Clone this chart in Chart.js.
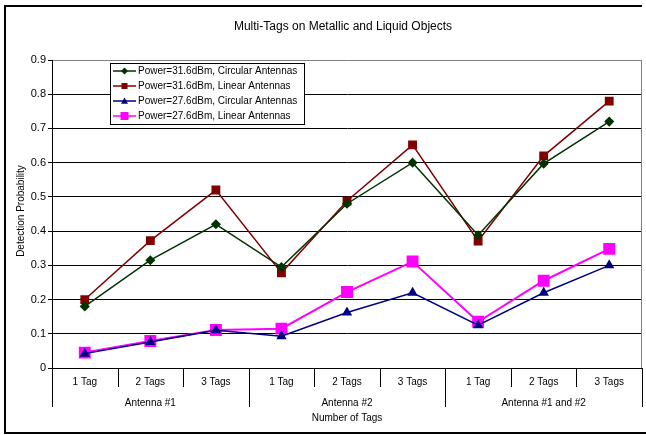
<!DOCTYPE html>
<html>
<head>
<meta charset="utf-8">
<script src="https://cdn.jsdelivr.net/npm/chart.js@4/dist/chart.umd.min.js"></script>
<style>
  body { margin: 0; background: #fff; }
  canvas { display: block; }
</style>
</head>
<body>
<canvas id="chart" width="646" height="435"></canvas>
<script>
// Chart data
const categories = ['1 Tag', '2 Tags', '3 Tags', '1 Tag', '2 Tags', '3 Tags', '1 Tag', '2 Tags', '3 Tags'];
const groups = ['Antenna #1', 'Antenna #2', 'Antenna #1 and #2'];
const seriesNames = [
    'Power=31.6dBm, Circular Antennas',
    'Power=31.6dBm, Linear Antennas',
    'Power=27.6dBm, Circular Antennas',
    'Power=27.6dBm, Linear Antennas'
];
const circular316 = [0.18, 0.315, 0.42, 0.295, 0.48, 0.60, 0.388, 0.597, 0.72];
const linear316 = [0.20, 0.372, 0.52, 0.278, 0.488, 0.652, 0.371, 0.62, 0.78];
const circular276 = [0.042, 0.076, 0.11, 0.093, 0.162, 0.22, 0.125, 0.22, 0.30];
const linear276 = [0.045, 0.079, 0.111, 0.115, 0.222, 0.311, 0.135, 0.255, 0.348];
const yTicks = [0, 0.1, 0.2, 0.3, 0.4, 0.5, 0.6, 0.7, 0.8, 0.9];

const FONT = '"Liberation Sans", Arial, sans-serif';

// draw a small marker (used for the legend)
function drawMarker(ctx, style, x, y, size, color) {
    ctx.fillStyle = color;
    ctx.beginPath();
    if (style === 'rectRot') {
        ctx.moveTo(x, y - size);
        ctx.lineTo(x + size, y);
        ctx.lineTo(x, y + size);
        ctx.lineTo(x - size, y);
    } else if (style === 'triangle') {
        ctx.moveTo(x, y - size);
        ctx.lineTo(x + size, y + size * 0.75);
        ctx.lineTo(x - size, y + size * 0.75);
    } else {
        ctx.rect(x - size, y - size, size * 2, size * 2);
    }
    ctx.closePath();
    ctx.fill();
}

const decorPlugin = {
    id: 'decor',
    beforeDraw(chart) {
        const ctx = chart.ctx;
        ctx.save();
        ctx.fillStyle = '#fff';
        ctx.fillRect(0, 0, chart.width, chart.height);
        ctx.restore();
    },
    afterDraw(chart) {
        const ctx = chart.ctx;
        const area = chart.chartArea;
        const x = chart.scales.x;
        ctx.save();

        // outer frame
        ctx.strokeStyle = '#000';
        ctx.lineWidth = 2;
        ctx.beginPath();
        ctx.moveTo(642, 6);
        ctx.lineTo(5, 6);
        ctx.lineTo(5, 433);
        ctx.lineTo(646, 433);
        ctx.stroke();

        // title
        ctx.fillStyle = '#000';
        ctx.font = '12px ' + FONT;
        ctx.textAlign = 'center';
        ctx.textBaseline = 'middle';
        ctx.fillText('Multi-Tags on Metallic and Liquid Objects', 343, 27);

        // right border of plot area
        ctx.strokeStyle = '#808080';
        ctx.lineWidth = 1;
        ctx.beginPath();
        ctx.moveTo(Math.round(area.right) - 0.5, area.top);
        ctx.lineTo(Math.round(area.right) - 0.5, area.bottom);
        ctx.stroke();

        // category separators below the axis
        const slot = x.getPixelForValue(1) - x.getPixelForValue(0);
        const start = x.getPixelForValue(0) - slot / 2;
        ctx.strokeStyle = '#000';
        for (let i = 0; i <= categories.length; i++) {
            const bx = Math.round(start + i * slot) + 0.5;
            const len = i % 3 === 0 ? 39 : 19;
            ctx.beginPath();
            ctx.moveTo(bx, area.bottom);
            ctx.lineTo(bx, area.bottom + len);
            ctx.stroke();
        }

        // group labels
        ctx.font = '10px ' + FONT;
        groups.forEach((g, i) => {
            ctx.fillText(g, start + slot * (3 * i + 1.5), 403);
        });

        // axis titles
        ctx.fillText('Number of Tags', (area.left + area.right) / 2, 418);
        ctx.translate(21, (area.top + area.bottom) / 2 - 3);
        ctx.rotate(-Math.PI / 2);
        ctx.fillText('Detection Probability', 0, 0);
        ctx.restore();

        // legend box
        ctx.save();
        const lx = 110, ly = 63, lw = 194, lh = 61;
        ctx.fillStyle = '#fff';
        ctx.fillRect(lx, ly, lw, lh);
        ctx.strokeStyle = '#000';
        ctx.lineWidth = 1;
        ctx.strokeRect(lx + 0.5, ly + 0.5, lw, lh);
        const sizes = [3.5, 3, 3.5, 4];
        ctx.font = '10px ' + FONT;
        ctx.textBaseline = 'middle';
        chart.data.datasets.forEach((ds, i) => {
            const ry = 71 + i * 15;
            ctx.strokeStyle = ds.borderColor;
            ctx.lineWidth = 1.5;
            ctx.beginPath();
            ctx.moveTo(113, ry);
            ctx.lineTo(136, ry);
            ctx.stroke();
            drawMarker(ctx, ds.pointStyle, 124.5, ry, sizes[i], ds.pointBackgroundColor);
            ctx.fillStyle = '#000';
            ctx.textAlign = 'left';
            ctx.fillText(ds.label, 138, ry + 0.5);
        });
        ctx.restore();
    }
};

new Chart(document.getElementById('chart'), {
    type: 'line',
    data: {
        labels: categories,
        datasets: [
            {
                label: seriesNames[0],
                data: circular316,
                borderColor: '#003300',
                pointBackgroundColor: '#003300',
                pointBorderColor: '#003300',
                pointStyle: 'rectRot',
                pointRadius: 4,
                borderWidth: 1.5,
                tension: 0
            },
            {
                label: seriesNames[1],
                data: linear316,
                borderColor: '#800000',
                pointBackgroundColor: '#800000',
                pointBorderColor: '#800000',
                pointStyle: 'rect',
                pointRadius: 5.2,
                borderWidth: 1.5,
                tension: 0
            },
            {
                label: seriesNames[2],
                data: circular276,
                borderColor: '#000080',
                pointBackgroundColor: '#000080',
                pointBorderColor: '#000080',
                pointStyle: 'triangle',
                pointRadius: 4.5,
                borderWidth: 1.5,
                tension: 0
            },
            {
                label: seriesNames[3],
                data: linear276,
                borderColor: '#ff00ff',
                pointBackgroundColor: '#ff00ff',
                pointBorderColor: '#ff00ff',
                pointStyle: 'rect',
                pointRadius: 7,
                borderWidth: 2,
                tension: 0
            }
        ]
    },
    options: {
        responsive: false,
        animation: false,
        layout: { autoPadding: false, padding: { top: 60, right: 4, left: 0, bottom: 0 } },
        plugins: {
            legend: { display: false },
            title: { display: false },
            tooltip: { enabled: false }
        },
        scales: {
            x: {
                type: 'category',
                offset: true,
                grid: { display: false, drawTicks: false },
                border: { display: true, color: '#000', width: 1 },
                ticks: {
                    color: '#000',
                    font: { family: FONT, size: 10 },
                    padding: 8,
                    maxRotation: 0,
                    autoSkip: false
                },
                afterFit: s => { s.height = 67; }
            },
            y: {
                min: 0,
                max: 0.9,
                afterBuildTicks: s => { s.ticks = yTicks.map(v => ({ value: v })); },
                ticks: {
                    color: '#000',
                    font: { family: FONT, size: 11 },
                    padding: 2,
                    callback: v => v === 0 ? '0' : v.toFixed(1)
                },
                grid: {
                    color: c => (c.tick && Math.abs(c.tick.value - 0.9) < 1e-6) ? '#808080' : '#000',
                    lineWidth: 1,
                    tickLength: 4,
                    tickColor: '#000'
                },
                border: { color: '#000', width: 1 },
                afterFit: s => { s.width = 52; }
            }
        }
    },
    plugins: [decorPlugin]
});
</script>
</body>
</html>
